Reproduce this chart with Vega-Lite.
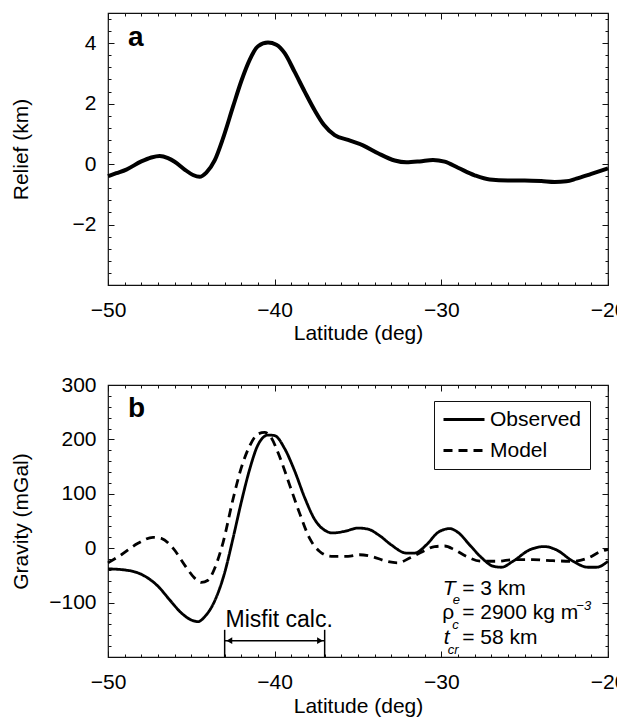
{
  "$schema": "https://vega.github.io/schema/vega-lite/v6.json",
  "background": "white",
  "padding": {"left": 9, "top": 11, "right": 0, "bottom": 0},
  "spacing": 100,
  "bounds": "flush",
  "resolve": {"legend": {"strokeDash": "independent"}, "scale": {"strokeDash": "independent"}},
  "config": {
    "font": "Liberation Sans",
    "view": {"stroke": "#111111", "strokeWidth": 1.2},
    "axis": {
      "domain": false, "grid": false,
      "labelFont": "Liberation Sans", "titleFont": "Liberation Sans",
      "labelFontSize": 21, "titleFontSize": 21, "titleFontWeight": "normal",
      "labelColor": "black", "titleColor": "black", "tickColor": "#111111", "tickWidth": 1,
      "labelFlush": false, "labelOverlap": false
    },
    "text": {"font": "Liberation Sans", "color": "black"}
  },
  "vconcat": [
    {
      "width": 500,
      "height": 272,
      "data": {"values": [
        {"lat": -50, "relief": -0.40}, {"lat": -49.5, "relief": -0.30}, {"lat": -48.9, "relief": -0.18},
        {"lat": -48, "relief": 0.09}, {"lat": -47.4, "relief": 0.22}, {"lat": -46.9, "relief": 0.27},
        {"lat": -46.4, "relief": 0.20}, {"lat": -46, "relief": 0.08}, {"lat": -45.4, "relief": -0.18},
        {"lat": -44.9, "relief": -0.36}, {"lat": -44.5, "relief": -0.42}, {"lat": -44.1, "relief": -0.28},
        {"lat": -43.6, "relief": 0.12}, {"lat": -43.1, "relief": 0.85}, {"lat": -42.5, "relief": 1.9},
        {"lat": -42, "relief": 2.75}, {"lat": -41.5, "relief": 3.45}, {"lat": -41, "relief": 3.9},
        {"lat": -40.4, "relief": 4.02}, {"lat": -39.9, "relief": 3.95}, {"lat": -39.4, "relief": 3.67},
        {"lat": -38.8, "relief": 3.05}, {"lat": -38.2, "relief": 2.4}, {"lat": -37.6, "relief": 1.78},
        {"lat": -37.05, "relief": 1.3}, {"lat": -36.4, "relief": 0.96}, {"lat": -35.6, "relief": 0.8},
        {"lat": -34.7, "relief": 0.62}, {"lat": -33.8, "relief": 0.36}, {"lat": -32.8, "relief": 0.12},
        {"lat": -32.1, "relief": 0.06}, {"lat": -31.3, "relief": 0.09}, {"lat": -30.5, "relief": 0.14},
        {"lat": -29.8, "relief": 0.08}, {"lat": -29, "relief": -0.12}, {"lat": -28, "relief": -0.37},
        {"lat": -27.1, "relief": -0.51}, {"lat": -26, "relief": -0.54}, {"lat": -25, "relief": -0.54},
        {"lat": -24, "relief": -0.56}, {"lat": -23.2, "relief": -0.59}, {"lat": -22.5, "relief": -0.57},
        {"lat": -21.9, "relief": -0.48}, {"lat": -21, "relief": -0.32}, {"lat": -20, "relief": -0.14}
      ]},
      "layer": [
        {
          "mark": {"type": "line", "interpolate": "monotone", "color": "black", "strokeWidth": 4},
          "encoding": {
            "x": {"field": "lat", "type": "quantitative", "scale": {"domain": [-50, -20], "nice": false, "zero": false},
              "axis": {"orient": "bottom", "values": [-50, -40, -30, -20], "format": "d", "tickSize": -6, "labelPadding": 20, "title": "Latitude (deg)", "titlePadding": 2, "minExtent": 35, "maxExtent": 35}},
            "y": {"field": "relief", "type": "quantitative", "scale": {"domain": [-4, 5], "nice": false, "zero": false},
              "axis": {"orient": "left", "values": [-2, 0, 2, 4], "format": "d", "tickSize": -6, "labelPadding": 18, "title": "Relief (km)", "titlePadding": 7, "minExtent": 70, "maxExtent": 70}}
          }
        },
        {
          "mark": {"type": "line", "opacity": 0},
          "encoding": {
            "x": {"field": "lat", "type": "quantitative", "scale": {"domain": [-50, -20], "nice": false, "zero": false},
              "axis": {"orient": "bottom", "values": [-49, -48, -47, -46, -45, -44, -43, -42, -41, -39, -38, -37, -36, -35, -34, -33, -32, -31, -29, -28, -27, -26, -25, -24, -23, -22, -21], "tickSize": -3, "labels": false, "title": null, "minExtent": 0, "maxExtent": 0}},
            "y": {"field": "relief", "type": "quantitative", "scale": {"domain": [-4, 5], "nice": false, "zero": false},
              "axis": {"orient": "left", "values": [-3.6, -3.2, -2.8, -2.4, -1.6, -1.2, -0.8, -0.4, 0.4, 0.8, 1.2, 1.6, 2.4, 2.8, 3.2, 3.6, 4.4, 4.8], "tickSize": -3, "labels": false, "title": null, "minExtent": 0, "maxExtent": 0}}
          }
        },
        {
          "mark": {"type": "line", "opacity": 0},
          "encoding": {
            "x": {"field": "lat", "type": "quantitative", "scale": {"domain": [-50, -20], "nice": false, "zero": false},
              "axis": {"orient": "top", "values": [-50, -40, -30, -20], "tickSize": -6, "labels": false, "title": null, "minExtent": 0, "maxExtent": 0}},
            "y": {"field": "relief", "type": "quantitative", "scale": {"domain": [-4, 5], "nice": false, "zero": false},
              "axis": {"orient": "right", "values": [-2, 0, 2, 4], "tickSize": -6, "labels": false, "title": null, "minExtent": 0, "maxExtent": 0}}
          }
        },
        {
          "mark": {"type": "line", "opacity": 0},
          "encoding": {
            "x": {"field": "lat", "type": "quantitative", "scale": {"domain": [-50, -20], "nice": false, "zero": false},
              "axis": {"orient": "top", "values": [-49, -48, -47, -46, -45, -44, -43, -42, -41, -39, -38, -37, -36, -35, -34, -33, -32, -31, -29, -28, -27, -26, -25, -24, -23, -22, -21], "tickSize": -3, "labels": false, "title": null, "minExtent": 0, "maxExtent": 0}},
            "y": {"field": "relief", "type": "quantitative", "scale": {"domain": [-4, 5], "nice": false, "zero": false},
              "axis": {"orient": "right", "values": [-3.6, -3.2, -2.8, -2.4, -1.6, -1.2, -0.8, -0.4, 0.4, 0.8, 1.2, 1.6, 2.4, 2.8, 3.2, 3.6, 4.4, 4.8], "tickSize": -3, "labels": false, "title": null, "minExtent": 0, "maxExtent": 0}}
          }
        },
        {
          "data": {"values": [{"lat": -48.8, "relief": 3.91, "label": "a"}]},
          "mark": {"type": "text", "fontWeight": "bold", "fontSize": 28, "align": "left", "baseline": "alphabetic"},
          "encoding": {
            "x": {"field": "lat", "type": "quantitative", "scale": {"domain": [-50, -20], "nice": false, "zero": false}, "axis": null},
            "y": {"field": "relief", "type": "quantitative", "scale": {"domain": [-4, 5], "nice": false, "zero": false}, "axis": null},
            "text": {"field": "label"}
          }
        }
      ],
      "resolve": {"axis": {"x": "independent", "y": "independent"}}
    },
    {
      "width": 500,
      "height": 272,
      "layer": [
        {
          "data": {"values": [
            {"series": "Observed", "lat": -50, "g": -38}, {"series": "Observed", "lat": -49, "g": -40},
            {"series": "Observed", "lat": -48, "g": -48}, {"series": "Observed", "lat": -47, "g": -70},
            {"series": "Observed", "lat": -46.3, "g": -95}, {"series": "Observed", "lat": -45.6, "g": -119},
            {"series": "Observed", "lat": -45, "g": -132}, {"series": "Observed", "lat": -44.6, "g": -135},
            {"series": "Observed", "lat": -44.2, "g": -126}, {"series": "Observed", "lat": -43.6, "g": -97},
            {"series": "Observed", "lat": -43, "g": -45}, {"series": "Observed", "lat": -42.5, "g": 18},
            {"series": "Observed", "lat": -42, "g": 85}, {"series": "Observed", "lat": -41.5, "g": 145},
            {"series": "Observed", "lat": -41, "g": 190}, {"series": "Observed", "lat": -40.4, "g": 208},
            {"series": "Observed", "lat": -40, "g": 207}, {"series": "Observed", "lat": -39.4, "g": 183},
            {"series": "Observed", "lat": -38.8, "g": 142}, {"series": "Observed", "lat": -38.2, "g": 93},
            {"series": "Observed", "lat": -37.6, "g": 53}, {"series": "Observed", "lat": -37, "g": 33},
            {"series": "Observed", "lat": -36.5, "g": 28}, {"series": "Observed", "lat": -35.8, "g": 31},
            {"series": "Observed", "lat": -35, "g": 37}, {"series": "Observed", "lat": -34.4, "g": 35},
            {"series": "Observed", "lat": -33.7, "g": 23}, {"series": "Observed", "lat": -33, "g": 6},
            {"series": "Observed", "lat": -32.1, "g": -9}, {"series": "Observed", "lat": -31.6, "g": -9},
            {"series": "Observed", "lat": -30.9, "g": 6}, {"series": "Observed", "lat": -30.2, "g": 29},
            {"series": "Observed", "lat": -29.5, "g": 36}, {"series": "Observed", "lat": -29, "g": 29},
            {"series": "Observed", "lat": -28.3, "g": 6}, {"series": "Observed", "lat": -27.6, "g": -17},
            {"series": "Observed", "lat": -26.9, "g": -33}, {"series": "Observed", "lat": -26.4, "g": -35},
            {"series": "Observed", "lat": -25.7, "g": -24}, {"series": "Observed", "lat": -24.7, "g": -3},
            {"series": "Observed", "lat": -23.8, "g": 3}, {"series": "Observed", "lat": -23.1, "g": -3},
            {"series": "Observed", "lat": -22.1, "g": -24}, {"series": "Observed", "lat": -21.2, "g": -35},
            {"series": "Observed", "lat": -20.7, "g": -35}, {"series": "Observed", "lat": -20, "g": -24},
            {"series": "Model", "lat": -50, "g": -27}, {"series": "Model", "lat": -49.2, "g": -12},
            {"series": "Model", "lat": -48.2, "g": 9}, {"series": "Model", "lat": -47.3, "g": 20},
            {"series": "Model", "lat": -46.8, "g": 18}, {"series": "Model", "lat": -46.1, "g": 0},
            {"series": "Model", "lat": -45.4, "g": -31}, {"series": "Model", "lat": -44.8, "g": -55},
            {"series": "Model", "lat": -44.4, "g": -63}, {"series": "Model", "lat": -44, "g": -59},
            {"series": "Model", "lat": -43.6, "g": -37}, {"series": "Model", "lat": -43.1, "g": 10},
            {"series": "Model", "lat": -42.5, "g": 90}, {"series": "Model", "lat": -42, "g": 148},
            {"series": "Model", "lat": -41.5, "g": 188}, {"series": "Model", "lat": -41, "g": 210},
            {"series": "Model", "lat": -40.6, "g": 213}, {"series": "Model", "lat": -40.25, "g": 205},
            {"series": "Model", "lat": -39.7, "g": 168}, {"series": "Model", "lat": -39.1, "g": 116},
            {"series": "Model", "lat": -38.5, "g": 64}, {"series": "Model", "lat": -37.9, "g": 18},
            {"series": "Model", "lat": -37.3, "g": -6}, {"series": "Model", "lat": -36.6, "g": -15},
            {"series": "Model", "lat": -35.6, "g": -15}, {"series": "Model", "lat": -34.9, "g": -12},
            {"series": "Model", "lat": -34.2, "g": -15}, {"series": "Model", "lat": -33.3, "g": -24},
            {"series": "Model", "lat": -32.6, "g": -27}, {"series": "Model", "lat": -31.9, "g": -18},
            {"series": "Model", "lat": -31.1, "g": -6}, {"series": "Model", "lat": -30.4, "g": 3},
            {"series": "Model", "lat": -29.8, "g": 4}, {"series": "Model", "lat": -29.2, "g": -3},
            {"series": "Model", "lat": -28.5, "g": -15}, {"series": "Model", "lat": -27.6, "g": -24},
            {"series": "Model", "lat": -26.6, "g": -24}, {"series": "Model", "lat": -25.7, "g": -21},
            {"series": "Model", "lat": -24.5, "g": -21}, {"series": "Model", "lat": -23.3, "g": -23},
            {"series": "Model", "lat": -22.1, "g": -24}, {"series": "Model", "lat": -21.2, "g": -18},
            {"series": "Model", "lat": -20.5, "g": -7}, {"series": "Model", "lat": -20, "g": -2}
          ]},
          "mark": {"type": "line", "interpolate": "monotone", "color": "black", "strokeWidth": 2.8},
          "encoding": {
            "x": {"field": "lat", "type": "quantitative", "scale": {"domain": [-50, -20], "nice": false, "zero": false},
              "axis": {"orient": "bottom", "values": [-50, -40, -30, -20], "format": "d", "tickSize": -6, "labelPadding": 20, "title": "Latitude (deg)", "titlePadding": 3, "minExtent": 35, "maxExtent": 35}},
            "y": {"field": "g", "type": "quantitative", "scale": {"domain": [-200, 300], "nice": false, "zero": false},
              "axis": {"orient": "left", "values": [-100, 0, 100, 200, 300], "format": "d", "tickSize": -6, "labelPadding": 18, "title": "Gravity (mGal)", "titlePadding": 7, "minExtent": 70, "maxExtent": 70}},
            "strokeDash": {"field": "series", "type": "nominal",
              "scale": {"domain": ["Observed", "Model"], "range": [[1, 0], [9, 6]]},
              "legend": {"orient": "none", "legendX": 326, "legendY": 16, "title": null, "strokeColor": "#111111", "fillColor": "white", "padding": 8,
                "symbolType": "stroke", "symbolSize": 1681, "symbolStrokeWidth": 3, "symbolStrokeColor": "black", "clipHeight": 21, "rowPadding": 9,
                "labelFont": "Liberation Sans", "labelFontSize": 21, "labelColor": "black", "labelOffset": 4}}
          }
        },
        {
          "data": {"values": [
            {"x1": -43, "x2": -43, "y1": -150, "y2": -200},
            {"x1": -37, "x2": -37, "y1": -150, "y2": -200},
            {"x1": -43, "x2": -37, "y1": -170, "y2": -170}
          ]},
          "mark": {"type": "rule", "color": "black", "strokeWidth": 1.5},
          "encoding": {
            "x": {"field": "x1", "type": "quantitative", "scale": {"domain": [-50, -20], "nice": false, "zero": false},
              "axis": {"orient": "bottom", "values": [-49, -48, -47, -46, -45, -44, -43, -42, -41, -39, -38, -37, -36, -35, -34, -33, -32, -31, -29, -28, -27, -26, -25, -24, -23, -22, -21], "tickSize": -3, "labels": false, "title": null, "minExtent": 0, "maxExtent": 0}},
            "x2": {"field": "x2"},
            "y": {"field": "y1", "type": "quantitative", "scale": {"domain": [-200, 300], "nice": false, "zero": false},
              "axis": {"orient": "left", "values": [-180, -160, -140, -120, -80, -60, -40, -20, 20, 40, 60, 80, 120, 140, 160, 180, 220, 240, 260, 280], "tickSize": -3, "labels": false, "title": null, "minExtent": 0, "maxExtent": 0}},
            "y2": {"field": "y2"}
          }
        },
        {
          "data": {"values": [
            {"lat": -42.72, "g": -170, "dir": "l"},
            {"lat": -37.28, "g": -170, "dir": "r"}
          ]},
          "mark": {"type": "point", "filled": true, "color": "black", "size": 45, "opacity": 1},
          "encoding": {
            "x": {"field": "lat", "type": "quantitative", "scale": {"domain": [-50, -20], "nice": false, "zero": false}, "axis": null},
            "y": {"field": "g", "type": "quantitative", "scale": {"domain": [-200, 300], "nice": false, "zero": false}, "axis": null},
            "shape": {"field": "dir", "type": "nominal", "scale": {"domain": ["l", "r"], "range": ["triangle-left", "triangle-right"]}, "legend": null}
          }
        },
        {
          "data": {"values": [
            {"lat": -29.95, "g": -130, "t": "ρ"},
            {"lat": -28.75, "g": -86, "t": "= 3 km"},
            {"lat": -28.75, "g": -130, "t": "= 2900 kg m"},
            {"lat": -28.75, "g": -177, "t": "= 58 km"}
          ]},
          "mark": {"type": "text", "fontSize": 21, "align": "left", "baseline": "alphabetic"},
          "encoding": {
            "x": {"field": "lat", "type": "quantitative", "scale": {"domain": [-50, -20], "nice": false, "zero": false},
              "axis": {"orient": "top", "values": [-50, -40, -30, -20], "tickSize": -6, "labels": false, "title": null, "minExtent": 0, "maxExtent": 0}},
            "y": {"field": "g", "type": "quantitative", "scale": {"domain": [-200, 300], "nice": false, "zero": false},
              "axis": {"orient": "right", "values": [-100, 0, 100, 200], "tickSize": -6, "labels": false, "title": null, "minExtent": 0, "maxExtent": 0}},
            "text": {"field": "t"}
          }
        },
        {
          "data": {"values": [
            {"lat": -29.92, "g": -86, "t": "T"},
            {"lat": -29.85, "g": -177, "t": "t"}
          ]},
          "mark": {"type": "text", "fontSize": 21, "fontStyle": "italic", "align": "left", "baseline": "alphabetic"},
          "encoding": {
            "x": {"field": "lat", "type": "quantitative", "scale": {"domain": [-50, -20], "nice": false, "zero": false},
              "axis": {"orient": "top", "values": [-49, -48, -47, -46, -45, -44, -43, -42, -41, -39, -38, -37, -36, -35, -34, -33, -32, -31, -29, -28, -27, -26, -25, -24, -23, -22, -21], "tickSize": -3, "labels": false, "title": null, "minExtent": 0, "maxExtent": 0}},
            "y": {"field": "g", "type": "quantitative", "scale": {"domain": [-200, 300], "nice": false, "zero": false},
              "axis": {"orient": "right", "values": [-180, -160, -140, -120, -80, -60, -40, -20, 20, 40, 60, 80, 120, 140, 160, 180, 220, 240, 260, 280], "tickSize": -3, "labels": false, "title": null, "minExtent": 0, "maxExtent": 0}},
            "text": {"field": "t"}
          }
        },
        {
          "data": {"values": [
            {"lat": -29.32, "g": -102, "t": "e"},
            {"lat": -29.35, "g": -148, "t": "c"},
            {"lat": -29.62, "g": -194, "t": "cr"},
            {"lat": -21.9, "g": -113, "t": "−3"}
          ]},
          "mark": {"type": "text", "fontSize": 13, "fontStyle": "italic", "align": "left", "baseline": "alphabetic"},
          "encoding": {
            "x": {"field": "lat", "type": "quantitative", "scale": {"domain": [-50, -20], "nice": false, "zero": false}, "axis": null},
            "y": {"field": "g", "type": "quantitative", "scale": {"domain": [-200, 300], "nice": false, "zero": false}, "axis": null},
            "text": {"field": "t"}
          }
        },
        {
          "data": {"values": [{"lat": -42.95, "g": -144, "t": "Misfit calc."}]},
          "mark": {"type": "text", "fontSize": 23, "align": "left", "baseline": "alphabetic"},
          "encoding": {
            "x": {"field": "lat", "type": "quantitative", "scale": {"domain": [-50, -20], "nice": false, "zero": false}, "axis": null},
            "y": {"field": "g", "type": "quantitative", "scale": {"domain": [-200, 300], "nice": false, "zero": false}, "axis": null},
            "text": {"field": "t"}
          }
        },
        {
          "data": {"values": [{"lat": -48.8, "g": 242, "t": "b"}]},
          "mark": {"type": "text", "fontWeight": "bold", "fontSize": 28, "align": "left", "baseline": "alphabetic"},
          "encoding": {
            "x": {"field": "lat", "type": "quantitative", "scale": {"domain": [-50, -20], "nice": false, "zero": false}, "axis": null},
            "y": {"field": "g", "type": "quantitative", "scale": {"domain": [-200, 300], "nice": false, "zero": false}, "axis": null},
            "text": {"field": "t"}
          }
        }
      ],
      "resolve": {"axis": {"x": "independent", "y": "independent"}}
    }
  ]
}
